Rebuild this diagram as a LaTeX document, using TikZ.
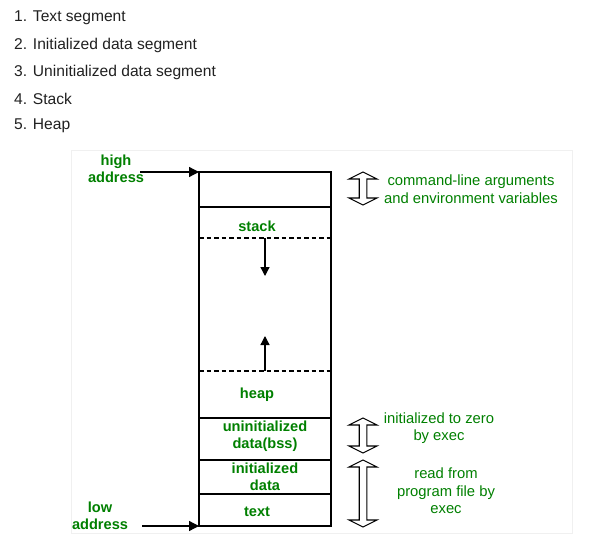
\documentclass[tikz,border=0pt]{standalone}
\usepackage{fontspec}
\setmainfont{Liberation Sans}
\usetikzlibrary{arrows.meta,positioning}
\definecolor{labelgreen}{RGB}{0,128,0}
\definecolor{listgray}{RGB}{33,33,33}
\tikzset{
    listitem/.style={
        anchor=west,
        inner sep=0pt,
        text=listgray,
        font=\fontsize{15.6}{17}\selectfont
    },
    % labels inside the memory column
    seglabel/.style={
        inner sep=0pt,
        align=center,
        text=labelgreen,
        font=\bfseries\fontsize{14.6}{17}\selectfont
    },
    notelabel/.style={
        inner sep=0pt,
        align=center,
        text=labelgreen,
        font=\fontsize{14.8}{17.5}\selectfont
    },
    addrarrow/.style={
        line width=1.3pt,
        black,
        -{Triangle[length=10pt, width=10pt]}
    },
    growarrow/.style={
        line width=1.3pt,
        black,
        -{Triangle[length=9pt, width=9pt]}
    }
}
% hollow double arrow: x, top, bottom
\newcommand{\hollowarrow}[3]{%
    \draw[line width=1.1pt,fill=white] (#1,#2) -- (#1+14,#2+7) -- (#1+3.8,#2+7)
    -- (#1+3.8,#3-7) -- (#1+14,#3-7) -- (#1,#3) -- (#1-14,#3-7)
    -- (#1-3.8,#3-7) -- (#1-3.8,#2+7) -- (#1-14,#2+7) -- cycle;}

\begin{document}
\begin{tikzpicture}[x=1pt,y=-1pt]
	\useasboundingbox[fill=white] (0,0) rectangle (592,538);
	
	% list
	\node[listitem] (item1) at (14,18) {1. Text segment};
	\node[listitem] (item2) at (14,45) {2. Initialized data segment};
	\node[listitem] (item3) at (14,72) {3. Uninitialized data segment};
	\node[listitem] (item4) at (14,99) {4. Stack};
	\node[listitem] (item5) at (14,126) {5. Heap};
	
	% panel
	\draw[gray!12,fill=white] (71,150) rectangle (572,533);
	
	\path 
	(199,172) coordinate (m1)
	(331,172) coordinate (n1)
	(199,207) coordinate (m2)
	(331,207) coordinate (n2)
	(199,238) coordinate (m3)
	(331,238) coordinate (n3)
	(199,371) coordinate (m4)
	(331,371) coordinate (n4)
	(199,418) coordinate (m5)
	(331,418) coordinate (n5)
	(199,460) coordinate (m6)
	(331,460) coordinate (n6)
	(199,494) coordinate (m7)
	(331,494) coordinate (n7)
	(199,526) coordinate (m8)
	(331,526) coordinate (n8);
	
	% memory column
	\draw[line width=1.4pt] (m1) rectangle (n8);
	\draw[line width=1.4pt] (m2) -- (n2);
	\draw[line width=1.4pt] (m5) -- (n5);
	\draw[line width=1.4pt] (m6) -- (n6);
	\draw[line width=1.4pt] (m7) -- (n7);
	\draw[line width=1.3pt,dash pattern=on 4.5pt off 3pt] (m3) -- (n3);
	\draw[line width=1.3pt,dash pattern=on 4.5pt off 3pt] (m4) -- (n4);
	
	% segment labels
	\node[seglabel] (stack) at (257,226) {stack};
	\node[seglabel] (heap) at (257,395) {heap};
	\node[seglabel] (bss) at (265,436) {uninitialized\\data(bss)};
	\node[seglabel] (data) at (265,477) {initialized\\data};
	\node[seglabel] (text) at (257,512) {text};
	
	% growth arrows
	\path (265,238) coordinate (s1) (265,276) coordinate (s2)
	(265,371) coordinate (h1) (265,336) coordinate (h2);
	\draw[growarrow] (s1) -- (s2);
	\draw[growarrow] (h1) -- (h2);
	
	% addresses
	\node[seglabel] (high) at (116,169) {high\\address};
	\node[seglabel] (low) at (100,516) {low\\address};
	\path (140,172) coordinate (a1) (142,526) coordinate (a2);
	\draw[addrarrow] (a1) -- (m1);
	\draw[addrarrow] (a2) -- (m8);
	
	% hollow arrows
	\hollowarrow{363}{172}{205}
	\hollowarrow{363}{418}{453}
	\hollowarrow{363}{460}{527}
	
	% notes
	\node[notelabel] (args) at (471,189) {command-line arguments\\and environment variables};
	\node[notelabel] (zero) at (439,428) {initialized to zero\\by exec};
	\node[notelabel] (readexec) at (446,491) {read from\\program file by\\exec};
\end{tikzpicture}
\end{document}
